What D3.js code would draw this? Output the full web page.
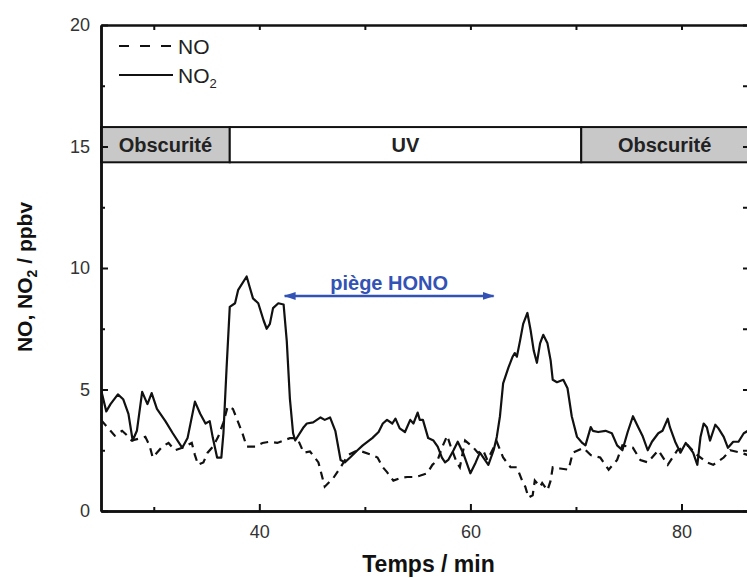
<!DOCTYPE html>
<html><head><meta charset="utf-8">
<script src="https://cdn.jsdelivr.net/npm/d3@7/dist/d3.min.js"></script>
<style>body{margin:0;background:#fff}svg{display:block}</style>
</head><body>
<svg id="chart" width="747" height="578"></svg>
<script>
// NO2 (solid) — [time (min), ppbv]
const no2Time = [25.0,25.5,25.9,26.6,27.1,27.6,28.0,28.4,28.9,29.4,29.8,30.3,31.1,31.8,32.7,33.2,33.9,34.4,34.9,35.3,35.6,36.0,36.4,36.6,36.9,37.2,37.7,38.0,38.8,39.1,39.4,39.9,40.4,40.7,41.0,41.3,41.8,42.3,42.6,42.9,43.2,43.4,44.2,44.5,45.1,45.8,46.2,46.7,47.2,47.7,48.1,48.6,49.3,49.8,50.7,51.3,51.7,52.1,52.6,52.9,53.3,53.8,54.3,54.6,55.0,55.2,55.5,56.0,56.5,56.9,57.3,57.6,57.9,58.4,58.8,59.3,60.0,60.5,60.9,61.7,62.2,62.5,62.8,63.1,63.6,64.0,64.2,64.4,64.7,65.0,65.4,65.7,66.0,66.3,66.6,66.9,67.3,67.6,67.8,68.2,68.8,69.2,69.6,70.1,70.6,70.9,71.4,71.6,72.1,72.8,73.4,73.9,74.4,74.9,75.4,75.9,76.3,76.8,77.2,77.8,78.2,78.7,78.9,79.4,79.9,80.4,80.6,81.1,81.5,81.8,82.1,82.4,82.7,83.2,83.5,84.0,84.4,84.9,85.4,85.9,86.3];
const no2Vals = [5.0,4.1,4.4,4.8,4.6,4.0,2.9,3.3,4.9,4.4,4.85,4.2,3.7,3.2,2.6,3.0,4.5,4.0,3.6,3.7,3.0,2.2,2.2,3.2,5.9,8.4,8.55,9.1,9.65,9.2,8.75,8.55,7.85,7.5,7.7,8.35,8.55,8.5,7.0,4.6,3.2,2.9,3.45,3.6,3.65,3.85,3.75,3.85,3.3,2.1,2.0,2.2,2.5,2.7,3.0,3.25,3.6,3.75,3.6,3.8,3.4,3.25,3.75,3.6,4.05,3.75,3.75,3.0,2.9,2.65,2.2,2.0,2.1,2.5,2.85,2.4,1.55,2.0,2.4,1.9,2.5,3.05,3.9,5.25,5.9,6.35,6.5,6.35,7.0,7.7,8.15,7.45,6.6,6.1,6.9,7.25,6.9,6.2,5.4,5.3,5.4,5.05,3.9,3.05,2.8,2.7,3.45,3.3,3.25,3.3,3.2,2.7,2.5,3.25,3.9,3.45,3.1,2.5,2.85,3.2,3.3,3.8,3.45,2.85,2.4,2.8,2.7,2.4,1.9,3.05,3.6,3.45,2.9,3.55,3.4,3.05,2.6,2.85,2.85,3.2,3.3];
// NO (dashed)
const noTime = [25.0,25.9,26.3,27.0,27.5,27.9,29.2,29.6,29.9,30.8,31.4,32.0,32.7,33.6,33.9,34.2,34.7,35.1,35.6,36.1,36.6,37.0,37.5,38.0,38.4,38.8,39.6,40.3,41.0,41.7,42.3,42.9,43.6,44.2,44.8,45.6,46.2,47.0,47.7,48.4,49.1,49.7,50.7,51.2,51.7,52.1,52.7,53.3,54.0,54.6,55.2,55.9,56.4,56.9,57.3,57.8,58.1,58.7,59.0,59.5,60.2,60.7,61.2,61.6,62.5,63.1,63.8,64.4,64.9,65.2,65.5,65.9,66.1,66.6,66.8,67.3,67.6,67.8,68.5,69.3,69.7,70.7,71.4,72.3,73.1,73.9,74.4,75.4,76.1,76.8,77.8,78.7,79.6,80.6,81.5,82.4,83.0,84.0,84.6,85.6,86.3];
const noVals = [3.75,3.3,3.1,3.3,3.1,2.9,3.05,2.7,2.2,2.65,2.8,2.5,2.6,2.8,2.3,1.9,2.0,2.4,2.65,3.05,3.65,4.3,4.2,3.65,3.2,2.65,2.65,2.8,2.85,2.8,2.9,3.0,3.0,2.4,2.45,2.0,1.0,1.35,1.8,2.3,2.45,2.45,2.3,2.2,1.8,1.6,1.25,1.35,1.4,1.4,1.45,1.55,1.9,2.1,2.6,3.1,2.7,2.0,1.8,2.9,2.65,2.4,2.5,2.1,2.85,2.2,1.8,1.8,1.25,1.0,0.55,0.65,1.25,1.0,1.15,0.85,1.25,1.8,1.75,1.7,2.4,2.6,2.3,2.2,1.7,2.1,2.7,2.6,2.1,2.0,2.5,1.9,2.5,2.7,2.3,2.0,1.9,2.2,2.5,2.4,2.3];

const phaseLabels = ["Obscurité","UV","Obscurité"];
const phaseStart = [25, 37.2, 70.5];
const phaseEnd = [37.2, 70.5, 86.3];
const bandTop = 15.8, bandBottom = 14.35;

const xMajor = [40,60,80];
const xMinor = [30,50,70];
const yMajor = [0,5,10,15,20];
const yMinor = [2.5,7.5,12.5,17.5];

const annotText = "piège HONO";
const annotFrom = 42.4, annotTo = 62.2, annotY = 8.85;

const svg = d3.select("#chart");
const L = 101, R = 748, T = 25, B = 511;
const x = d3.scaleLinear().domain([25, 86.3]).range([L, R]);
const y = d3.scaleLinear().domain([0, 20]).range([B, T]);
const font = "Liberation Sans, Arial, Helvetica, sans-serif";

svg.append("defs").append("clipPath").attr("id","clip")
  .append("rect").attr("x",L).attr("y",T).attr("width",R-L).attr("height",B-T);

// phase band
const band = svg.append("g");
phaseLabels.forEach((lab,i)=>{
  band.append("rect")
    .attr("x", x(phaseStart[i])).attr("y", y(bandTop))
    .attr("width", x(phaseEnd[i]) - x(phaseStart[i]))
    .attr("height", y(bandBottom) - y(bandTop))
    .attr("fill", lab === "UV" ? "#ffffff" : "#c8c8c8")
    .attr("stroke", "#111").attr("stroke-width", 2);
  band.append("text")
    .attr("x", (x(phaseStart[i]) + x(phaseEnd[i]))/2)
    .attr("y", (y(bandTop)+y(bandBottom))/2 + 7)
    .attr("text-anchor","middle")
    .attr("font-family", font).attr("font-weight","bold").attr("font-size", 20)
    .attr("fill","#222").text(lab);
});

// lines
const line = d3.line().x(d=>x(d[0])).y(d=>y(d[1]));
const no2Data = no2Time.map((t,i)=>[t,no2Vals[i]]);
const noData = noTime.map((t,i)=>[t,noVals[i]]);
const lg = svg.append("g").attr("clip-path","url(#clip)");
lg.append("path").datum(noData).attr("d",line)
  .attr("fill","none").attr("stroke","#111").attr("stroke-width",2.2)
  .attr("stroke-dasharray","8,6");
lg.append("path").datum(no2Data).attr("d",line)
  .attr("fill","none").attr("stroke","#111").attr("stroke-width",2.2)
  .attr("stroke-linejoin","round");

// axes
function styleAxis(g){
  g.select(".domain").attr("stroke","#111").attr("stroke-width",2.5);
  g.selectAll(".tick line").attr("stroke","#111").attr("stroke-width",2);
  g.selectAll(".tick text").attr("font-family",font).attr("font-size",18).attr("fill","#333");
}
const gB = svg.append("g").attr("transform",`translate(0,${B})`)
  .call(d3.axisBottom(x).tickValues(xMajor).tickSizeInner(-7).tickSizeOuter(0).tickPadding(14).tickFormat(d3.format("d")));
styleAxis(gB);
const gBm = svg.append("g").attr("transform",`translate(0,${B})`)
  .call(d3.axisBottom(x).tickValues(xMinor).tickSizeInner(-4).tickSizeOuter(0).tickFormat(""));
styleAxis(gBm);
const gT = svg.append("g").attr("transform",`translate(0,${T})`)
  .call(d3.axisTop(x).tickValues(xMajor.concat(xMinor)).tickSizeInner(-5).tickSizeOuter(0).tickFormat(""));
styleAxis(gT);
const gL = svg.append("g").attr("transform",`translate(${L},0)`)
  .call(d3.axisLeft(y).tickValues(yMajor).tickSizeInner(-7).tickSizeOuter(0).tickPadding(11).tickFormat(d3.format("d")));
styleAxis(gL);
const gLm = svg.append("g").attr("transform",`translate(${L},0)`)
  .call(d3.axisLeft(y).tickValues(yMinor).tickSizeInner(-4).tickSizeOuter(0).tickFormat(""));
styleAxis(gLm);
const gR = svg.append("g").attr("transform",`translate(${R},0)`)
  .call(d3.axisRight(y).tickValues(yMajor.concat(yMinor)).tickSizeInner(-5).tickSizeOuter(0).tickFormat(""));
styleAxis(gR);

// axis titles
svg.append("text").attr("x", (L+R)/2 + 4).attr("y", 572).attr("text-anchor","middle")
  .attr("font-family",font).attr("font-weight","bold").attr("font-size",23).attr("fill","#111")
  .text("Temps / min");
const yt = svg.append("text").attr("transform","translate(32,277) rotate(-90)").attr("text-anchor","middle")
  .attr("font-family",font).attr("font-weight","bold").attr("font-size",21).attr("fill","#111");
yt.append("tspan").text("NO, NO");
yt.append("tspan").attr("font-size",14).attr("dy",5).text("2");
yt.append("tspan").attr("dy",-5).text(" / ppbv");

// legend
const leg = svg.append("g");
leg.append("line").attr("x1",119).attr("x2",173).attr("y1",46).attr("y2",46)
  .attr("stroke","#111").attr("stroke-width",2.2).attr("stroke-dasharray","10,11");
leg.append("text").attr("x",178).attr("y",54).attr("font-family",font).attr("font-size",21).attr("fill","#222").text("NO");
leg.append("line").attr("x1",119).attr("x2",173).attr("y1",75).attr("y2",75)
  .attr("stroke","#111").attr("stroke-width",2.2);
const t2 = leg.append("text").attr("x",178).attr("y",83).attr("font-family",font).attr("font-size",21).attr("fill","#222");
t2.append("tspan").text("NO");
t2.append("tspan").attr("font-size",13).attr("dy",5).text("2");

// annotation
const blue = "#3352b5";
const defs = svg.select("defs");
["s","e"].forEach(id=>{
  defs.append("marker").attr("id","arr"+id).attr("viewBox","0 0 12 10")
    .attr("refX", 11).attr("refY",5).attr("markerWidth",12).attr("markerHeight",10)
    .attr("markerUnits","userSpaceOnUse").attr("orient","auto-start-reverse")
    .append("path").attr("d","M0,1 L12,5 L0,9 Z").attr("fill",blue);
});
svg.append("line").attr("x1",x(annotFrom)).attr("x2",x(annotTo)).attr("y1",y(annotY)).attr("y2",y(annotY))
  .attr("stroke",blue).attr("stroke-width",2.5)
  .attr("marker-start","url(#arrs)").attr("marker-end","url(#arre)");
svg.append("text").attr("x",(x(annotFrom)+x(annotTo))/2).attr("y",y(annotY)-6).attr("text-anchor","middle")
  .attr("font-family",font).attr("font-weight","bold").attr("font-size",20).attr("fill",blue)
  .text(annotText);
</script>
</body></html>
